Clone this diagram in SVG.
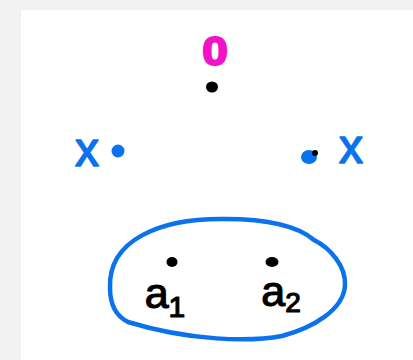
<svg xmlns="http://www.w3.org/2000/svg" width="413" height="360" viewBox="0 0 413 360">
<style>
.lbl{font-family:"Liberation Sans","DejaVu Sans",sans-serif;text-anchor:middle}
.pink{fill:#f212c8;stroke:#f212c8;stroke-width:2;stroke-linejoin:round}
.blue{fill:#0b72ee;stroke:#0b72ee;stroke-width:1.5;stroke-linejoin:round}
.blk{fill:#000;stroke:#000;stroke-width:1.2;stroke-linejoin:round}
.dot{fill:#000}
.bdot{fill:#0b72ee}
.set{fill:none;stroke:#0b72ee;stroke-width:4.5;stroke-linejoin:round}
</style>
<rect x="0" y="0" width="413" height="360" fill="#f2f2f2"/>
<rect x="21" y="10" width="392" height="350" fill="#ffffff"/>
<g id="connectors"/>
<g id="node-0">
<text class="lbl pink" x="215" y="65" font-size="40" font-weight="bold" transform="translate(215 0) scale(1.15 1) translate(-215 0)">0</text>
<ellipse class="dot" cx="212" cy="87" rx="6" ry="5.5"/>
</g>
<g id="node-x-left">
<text class="lbl blue" x="87" y="166" font-size="48">x</text>
<circle class="bdot" cx="118" cy="151" r="6.5"/>
</g>
<g id="node-x-right">
<text class="lbl blue" x="351" y="163" font-size="48">x</text>
<ellipse class="bdot" cx="309" cy="157" rx="8" ry="7"/>
<circle class="dot" cx="315" cy="153" r="3"/>
</g>
<g id="node-set">
<path class="set" d="M 110 288 C 108 240, 160 218, 225 219 C 275 219, 300 228, 314 240 C 330 248, 346 266, 345 285 C 344 310, 312 328, 282 336 C 250 342, 190 341, 128 322 C 114 315, 110 302, 110 288 Z"/>
</g>
<g id="node-a1">
<ellipse class="dot" cx="172" cy="262" rx="5.5" ry="5"/>
<text class="lbl blk" x="165" y="308" font-size="43">a<tspan font-size="30" dy="9">1</tspan></text>
</g>
<g id="node-a2">
<ellipse class="dot" cx="272" cy="262" rx="6.5" ry="5"/>
<text class="lbl blk" x="281" y="306" font-size="43">a<tspan font-size="28" dy="6">2</tspan></text>
</g>
</svg>
